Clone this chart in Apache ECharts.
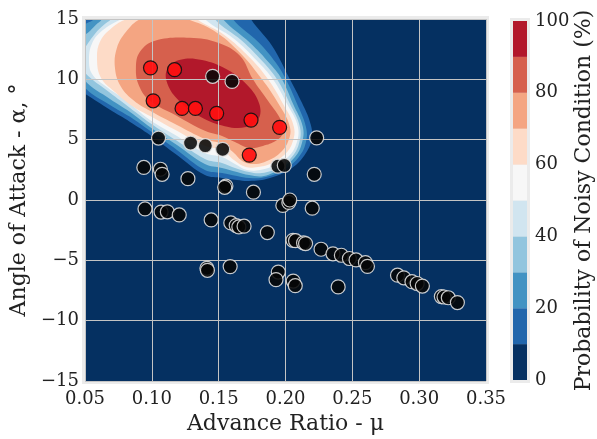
<!DOCTYPE html>
<html><head><meta charset="utf-8">
<script src="https://cdn.jsdelivr.net/npm/echarts/dist/echarts.min.js"></script>
<style>html,body{margin:0;padding:0;background:#fff;}#chart{width:597px;height:439px;}</style>
</head><body><div id="chart"></div>
<script>
// ---------- data ----------
// Noisy (red) test conditions: [advance ratio μ, angle of attack α]
const noisyPoints = [
  [0.099,10.95],[0.117,10.80],[0.101,8.22],[0.1226,7.59],[0.1326,7.59],
  [0.1485,7.18],[0.1742,6.62],[0.1956,6.02],[0.1729,3.72]
];
// Quiet (black) test conditions
const quietPoints = [
  [0.1455,10.25],[0.160,9.83],[0.105,5.13],[0.129,4.72],[0.140,4.50],[0.153,4.20],[0.2233,5.15],
  [0.094,2.70],[0.1064,2.55],[0.1077,2.13],[0.127,1.77],[0.1943,2.80],[0.1991,2.87],
  [0.1554,1.15],[0.1545,1.05],[0.176,0.65],[0.2215,2.13],
  [0.198,-0.45],[0.2025,-0.20],[0.2032,0.00],[0.220,-0.68],
  [0.0949,-0.74],[0.1069,-1.00],[0.1116,-0.98],[0.1205,-1.24],[0.1444,-1.65],
  [0.1591,-1.90],[0.1631,-2.12],[0.1651,-2.23],[0.169,-2.17],[0.1864,-2.70],
  [0.2056,-3.34],[0.2075,-3.37],[0.2135,-3.55],[0.2150,-3.61],[0.2266,-4.08],[0.2355,-4.46],
  [0.2418,-4.58],[0.2478,-4.85],[0.2528,-4.97],[0.2598,-5.19],[0.2613,-5.50],
  [0.1946,-5.97],[0.1929,-6.60],[0.2058,-6.72],[0.2073,-7.10],[0.2394,-7.20],
  [0.2838,-6.23],[0.2885,-6.45],[0.2946,-6.77],[0.2985,-6.92],[0.3024,-7.13],
  [0.3166,-8.00],[0.3186,-8.04],[0.3218,-8.10],[0.3286,-8.50],
  [0.1412,-5.66],[0.1416,-5.83],[0.1586,-5.52]
];
// Probability contour levels (%) and band colours (0-10 ... 90-100)
const contourLevels = [10,20,30,40,50,60,70,80,90];
const bandColors = ['#053061','#2166ac','#4393c3','#92c5de','#d1e5f0','#f7f7f7','#fddbc7','#f4a582','#d6604d','#b2182b'];
const colorbarTicks = [0,20,40,60,80,100];
const muTicks = ['0.05','0.10','0.15','0.20','0.25','0.30','0.35'];
const alphaTicks = [-15,-10,-5,0,5,10,15];

// Contour outlines, [μ, α] (parts beyond the frame are clipped)
const contour10 = [[0.1697,16.18],[0.1742,14.98],[0.1899,12.78],[0.2033,10.00],[0.2123,8.05],[0.2183,6.47],[0.2198,5.23],[0.2153,3.90],[0.2048,2.66],[0.1884,1.83],[0.1727,1.58],[0.1637,1.66],[0.1525,1.83],[0.1397,2.07],[0.1188,3.73],[0.0986,5.39],[0.0837,6.47],[0.0687,7.47],[0.0500,8.80],[0.0388,9.54],[0.0313,12.45],[0.0313,15.77],[0.0612,17.43],[0.1360,17.43]];
const contour20 = [[0.1570,16.18],[0.1607,14.98],[0.1794,13.11],[0.1928,11.37],[0.2003,10.00],[0.2086,7.97],[0.2153,6.06],[0.2153,4.81],[0.2100,3.57],[0.1996,2.57],[0.1854,1.91],[0.1727,1.83],[0.1637,1.99],[0.1525,2.24],[0.1397,2.49],[0.1188,4.15],[0.0986,5.73],[0.0837,6.89],[0.0687,7.88],[0.0500,9.29],[0.0425,10.79],[0.0448,14.11],[0.0507,14.61],[0.0567,14.98],[0.0687,16.60],[0.1360,17.01]];
const contour30 = [[0.1495,15.93],[0.1532,14.98],[0.1734,13.03],[0.1884,11.29],[0.1973,10.00],[0.2056,7.97],[0.2130,6.06],[0.2123,4.73],[0.2071,3.57],[0.1966,2.66],[0.1839,1.99],[0.1727,2.07],[0.1637,2.32],[0.1525,2.66],[0.1397,2.99],[0.1188,4.56],[0.0986,6.06],[0.0837,7.30],[0.0687,8.38],[0.0500,9.88],[0.0425,11.62],[0.0463,13.44],[0.0522,13.86],[0.0582,14.52],[0.0627,14.98],[0.0724,16.60],[0.1360,16.85]];
const contour40 = [[0.1435,16.18],[0.1472,14.98],[0.1674,13.20],[0.1831,11.45],[0.1936,10.00],[0.2033,7.97],[0.2108,6.06],[0.2100,4.65],[0.2041,3.49],[0.1943,2.66],[0.1824,2.24],[0.1727,2.32],[0.1622,2.66],[0.1525,3.07],[0.1397,3.40],[0.1188,4.90],[0.0986,6.39],[0.0837,7.63],[0.0687,8.88],[0.0500,10.54],[0.0448,11.62],[0.0500,12.61],[0.0575,13.78],[0.0642,14.52],[0.0694,14.98],[0.0799,16.43],[0.1397,16.43]];
const contour50 = [[0.1323,16.18],[0.1397,14.98],[0.1614,13.36],[0.1786,11.54],[0.1906,10.00],[0.2011,7.97],[0.2093,6.06],[0.2078,4.56],[0.2011,3.49],[0.1906,2.82],[0.1809,2.49],[0.1712,2.49],[0.1622,2.99],[0.1525,3.57],[0.1397,3.90],[0.1188,5.31],[0.0986,6.64],[0.0799,8.30],[0.0650,9.46],[0.0552,10.46],[0.0530,11.62],[0.0552,12.95],[0.0627,14.02],[0.0769,14.98],[0.0986,16.18]];
const contour60 = [[0.1270,15.77],[0.1338,14.98],[0.1540,13.69],[0.1734,11.78],[0.1869,10.00],[0.1981,7.97],[0.2063,6.06],[0.2048,4.65],[0.1981,3.65],[0.1884,2.99],[0.1794,2.74],[0.1704,2.74],[0.1614,3.32],[0.1525,4.15],[0.1397,4.48],[0.1188,5.73],[0.0986,6.97],[0.0852,7.80],[0.0724,8.96],[0.0620,10.12],[0.0590,11.62],[0.0612,13.11],[0.0702,14.27],[0.0807,14.98],[0.1061,15.85]];
const contour70 = [[0.1098,15.60],[0.1270,14.98],[0.1465,14.02],[0.1659,12.20],[0.1824,10.00],[0.1943,8.05],[0.2033,6.06],[0.2018,4.81],[0.1951,3.82],[0.1861,3.24],[0.1779,2.99],[0.1689,3.15],[0.1607,3.98],[0.1525,4.65],[0.1397,5.06],[0.1188,6.22],[0.0986,7.39],[0.0867,8.22],[0.0769,9.38],[0.0724,10.95],[0.0739,12.61],[0.0807,13.94],[0.0911,14.98]];
const contour80 = [[0.1285,13.44],[0.1495,13.03],[0.1659,11.95],[0.1756,10.00],[0.1869,8.22],[0.1973,6.47],[0.1981,5.56],[0.1928,4.90],[0.1831,4.48],[0.1727,4.32],[0.1622,4.81],[0.1525,5.31],[0.1397,5.73],[0.1188,6.97],[0.0986,8.22],[0.0904,9.46],[0.0881,10.95],[0.0911,12.28],[0.1024,13.20]];
const contour90 = [[0.1798,6.71],[0.1705,6.04],[0.1546,6.12],[0.1363,6.90],[0.1205,8.21],[0.1116,9.66],[0.1117,10.89],[0.1214,11.63],[0.1375,11.60],[0.1559,10.83],[0.1715,9.51],[0.1803,8.00]];
const contourLines = [contour10,contour20,contour30,contour40,contour50,contour60,contour70,contour80,contour90];

// ---------- chart ----------
const serif = 'DejaVu Serif';
const chart = echarts.init(document.getElementById('chart'), null, {renderer:'canvas'});

function renderContour(params, api){
  const i = api.value(0);
  const pts = contourLines[i].map(p => api.coord(p));
  const cs = params.coordSys;
  return {type:'polygon', shape:{points:pts, smooth:0.4}, style:{fill:bandColors[i+1]},
    clipPath:{type:'rect', shape:{x:cs.x, y:cs.y, width:cs.width, height:cs.height}}};
}

const colorbarSeries = bandColors.map((col) => ({
  type:'bar', xAxisIndex:1, yAxisIndex:1, stack:'cb', barWidth:'100%', silent:true,
  data:[10], itemStyle:{color:col}, z:2
}));

const option = {
  animation:false,
  backgroundColor:'#ffffff',
  graphic:[
    {type:'rect', z:-5, left:82, top:16, shape:{width:407, height:368}, style:{fill:'#ebebeb'}},
    {type:'rect', z:-5, left:510, top:18, shape:{width:20, height:365}, style:{fill:'#ebebeb'}}
  ],
  grid:[
    {left:85, top:19, width:401, height:362, show:true, backgroundColor:bandColors[0], borderWidth:0, z:1, outerBoundsMode:'none', containLabel:false},
    {left:513, top:21, width:14, height:359, show:false, outerBoundsMode:'none', containLabel:false}
  ],
  xAxis:[
    {type:'value', gridIndex:0, min:0.05, max:0.35, interval:0.05, z:3,
     name:'Advance Ratio - μ', nameLocation:'middle', nameGap:32,
     nameTextStyle:{fontFamily:serif, fontSize:22, color:'#222'},
     axisLine:{show:false}, axisTick:{show:false},
     axisLabel:{fontFamily:serif, fontSize:18, color:'#222', margin:9, showMinLabel:true, showMaxLabel:true,
       formatter:(v)=>muTicks[Math.round((v-0.05)/0.05)]},
     splitLine:{show:true, lineStyle:{color:'#c4c4c4', width:1}}},
    {type:'category', gridIndex:1, data:['cb'], show:false}
  ],
  yAxis:[
    {type:'value', gridIndex:0, min:-15, max:15, interval:5, z:3,
     name:'Angle of Attack - α, °', nameLocation:'middle', nameGap:53, nameRotate:90,
     nameTextStyle:{fontFamily:serif, fontSize:22, color:'#222'},
     axisLine:{show:false}, axisTick:{show:false},
     axisLabel:{fontFamily:serif, fontSize:18, color:'#222', margin:6, showMinLabel:true, showMaxLabel:true,
       formatter:(v)=>{const t=alphaTicks[Math.round((v+15)/5)]; return t<0?'\u2212'+Math.abs(t):String(t);}},
     splitLine:{show:true, lineStyle:{color:'#c4c4c4', width:1}}},
    {type:'value', gridIndex:1, min:0, max:100, interval:20, position:'right',
     name:'Probability of Noisy Condition (%)', nameLocation:'middle', nameGap:44, nameRotate:90,
     nameTextStyle:{fontFamily:serif, fontSize:22, color:'#222'},
     axisLine:{show:false}, axisTick:{show:false}, splitLine:{show:false},
     axisLabel:{fontFamily:serif, fontSize:18, color:'#222', margin:8, showMinLabel:true, showMaxLabel:true,
       formatter:(v)=>String(colorbarTicks[Math.round(v/20)])}}
  ],
  series:[
    {type:'custom', xAxisIndex:0, yAxisIndex:0, z:2, silent:true,
     data:contourLevels.map((lv,i)=>[i]), renderItem:renderContour},
    {type:'scatter', xAxisIndex:0, yAxisIndex:0, z:5, data:quietPoints, symbolSize:14,
     itemStyle:{color:'#060606', borderColor:'#e2e2e2', borderWidth:1.2, opacity:0.88}},
    {type:'scatter', xAxisIndex:0, yAxisIndex:0, z:6, data:noisyPoints, symbolSize:14,
     itemStyle:{color:'#ff1010', borderColor:'#111111', borderWidth:1.2, opacity:0.92}},
    ...colorbarSeries
  ]
};
chart.setOption(option);
</script>
</body></html>
